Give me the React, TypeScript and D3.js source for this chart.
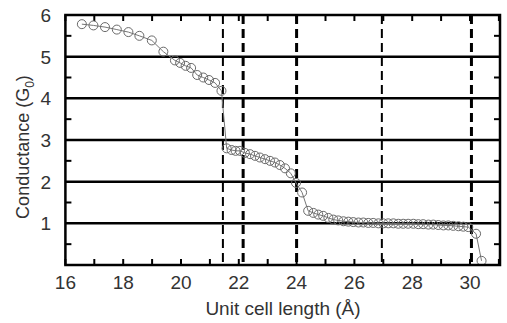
import React from "react";
import * as d3 from "d3";

const seg1X = [16.57, 16.97, 17.37, 17.78, 18.18, 18.56, 18.99, 19.39, 19.79, 19.97, 20.16, 20.35, 20.56, 20.77, 20.97, 21.18, 21.4];
const seg1Y = [5.78, 5.75, 5.71, 5.65, 5.59, 5.5, 5.39, 5.12, 4.91, 4.85, 4.78, 4.73, 4.56, 4.5, 4.44, 4.37, 4.18];
const seg2X = [21.58, 21.75, 21.89, 22.04, 22.21, 22.39, 22.56, 22.73, 22.91, 23.08, 23.25, 23.42, 23.6, 23.8, 23.98];
const seg2Y = [2.8, 2.76, 2.74, 2.74, 2.69, 2.66, 2.62, 2.58, 2.54, 2.5, 2.46, 2.4, 2.32, 2.2, 1.97];
const seg3X = [24.19, 24.4, 24.58, 24.75, 24.92, 25.1, 25.27, 25.44, 25.62, 25.79, 25.96, 26.14, 26.31, 26.48, 26.65, 26.83, 27.0, 27.17, 27.35, 27.52, 27.69, 27.86, 28.04, 28.21, 28.38, 28.56, 28.73, 28.9, 29.08, 29.25, 29.42, 29.6, 29.77, 29.94, 30.21, 30.4];
const seg3Y = [1.74, 1.3, 1.25, 1.21, 1.18, 1.13, 1.09, 1.07, 1.05, 1.04, 1.03, 1.02, 1.02, 1.01, 1.01, 1.0, 1.0, 1.0, 1.0, 0.99, 0.99, 0.99, 0.99, 0.98, 0.98, 0.97, 0.97, 0.96, 0.95, 0.95, 0.94, 0.93, 0.92, 0.91, 0.75, 0.1];

const xTicks = [16, 18, 20, 22, 24, 26, 28, 30];
const yTicks = [1, 2, 3, 4, 5, 6];
const hLines = [1, 2, 3, 4, 5];
const vLines = [21.45, 22.15, 24.0, 26.95, 30.05];
const vWidths = [2, 3, 3, 2, 3];

export default function App() {
  const W = 507, H = 323;
  const L = 65.4, R = 500, T = 15, B = 265;
  const x = d3.scaleLinear().domain([16, 31]).range([L, L + 15 * 28.9]);
  const y = d3.scaleLinear().domain([0, 6]).range([B, T]);
  const xs = [...seg1X, ...seg2X, ...seg3X];
  const ys = [...seg1Y, ...seg2Y, ...seg3Y];
  const pts: [number, number][] = xs.map((v, i) => [v, ys[i]]);
  const line = d3.line<[number, number]>().x(d => x(d[0])).y(d => y(d[1]));
  const minorX = d3.range(16, 31.01, 1);
  const minorY = d3.range(0.5, 6, 1);
  const font = "'Liberation Sans', Arial, sans-serif";
  return (
    <svg width={W} height={H} style={{ position: "absolute", left: 0, top: 0, background: "#fff" }}>
      {hLines.map(v => (
        <line key={"h" + v} x1={L} x2={R} y1={y(v)} y2={y(v)} stroke="#000" strokeWidth={2.5} />
      ))}
      {vLines.map((v, i) => (
        <line key={"v" + v} x1={x(v)} x2={x(v)} y1={T} y2={B} stroke="#000" strokeWidth={vWidths[i]} strokeDasharray="9,5" />
      ))}
      {minorX.map(v => (
        <g key={"tx" + v}>
          <line x1={x(v)} x2={x(v)} y1={B} y2={B - 6} stroke="#000" strokeWidth={2} />
          <line x1={x(v)} x2={x(v)} y1={T} y2={T + 6} stroke="#000" strokeWidth={2} />
        </g>
      ))}
      {minorY.map(v => (
        <g key={"ty" + v}>
          <line x1={L} x2={L + 6} y1={y(v)} y2={y(v)} stroke="#000" strokeWidth={2} />
          <line x1={R} x2={R - 6} y1={y(v)} y2={y(v)} stroke="#000" strokeWidth={2} />
        </g>
      ))}
      <path d={line(pts) || ""} fill="none" stroke="#777" strokeWidth={1} />
      {pts.map((p, i) => (
        <circle key={"c" + i} cx={x(p[0])} cy={y(p[1])} r={4.5} fill="none" stroke="#6a6a6a" strokeWidth={1} />
      ))}
      <rect x={L} y={T} width={R - L} height={B - T} fill="none" stroke="#000" strokeWidth={2.5} />
      {xTicks.map(v => (
        <text key={"xl" + v} x={x(v)} y={289} textAnchor="middle" fontFamily={font} fontSize={19} fill="#333">{v}</text>
      ))}
      {yTicks.map(v => (
        <text key={"yl" + v} x={51} y={y(v) + 7} textAnchor="end" fontFamily={font} fontSize={19} fill="#333">{v}</text>
      ))}
      <text x={283} y={315} textAnchor="middle" fontFamily={font} fontSize={19} fill="#333">Unit cell length (Å)</text>
      <text transform={`translate(29,147) rotate(-90)`} textAnchor="middle" fontFamily={font} fontSize={18} fill="#333">
        Conductance (G<tspan fontSize={12} dy={5}>0</tspan><tspan dy={-5}>)</tspan>
      </text>
    </svg>
  );
}
